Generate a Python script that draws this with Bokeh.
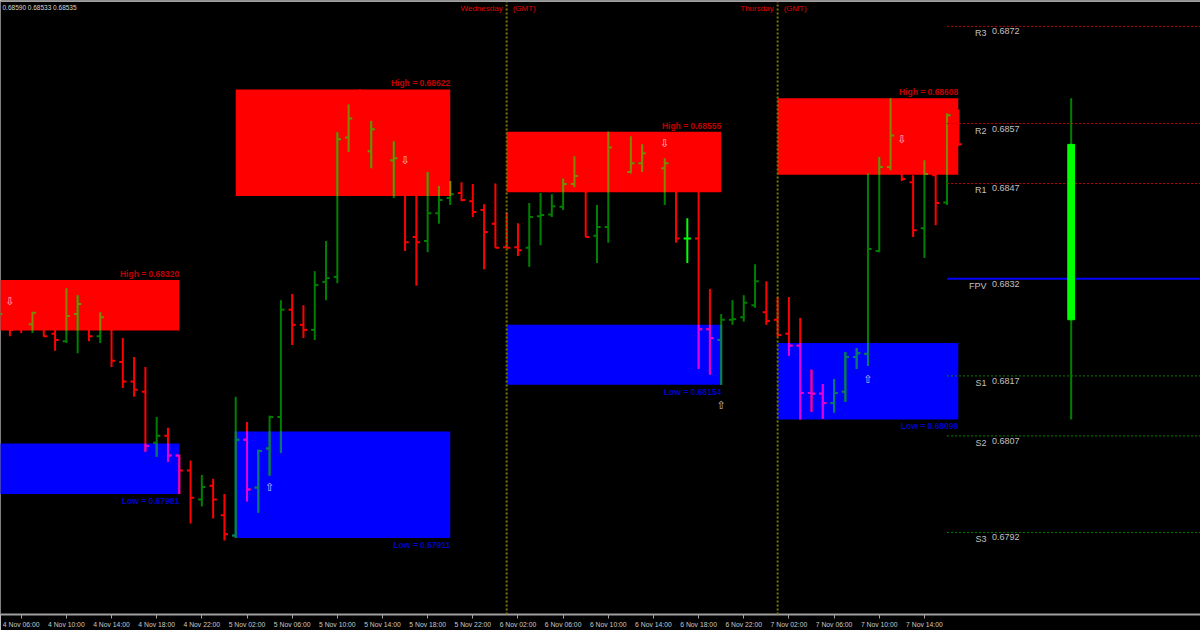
import pandas as pd
from bokeh.plotting import figure
from bokeh.models import Range1d, FixedTicker, Span
from bokeh.embed import file_html
from bokeh.resources import INLINE
from bokeh.core.properties import value

# ---------------- data (H1 bars) ----------------
FIRST_BAR = "2013-11-04 04:00"
AXIS_ORIGIN = "2013-11-04 06:00"

opens = [0.68254, 0.68266, 0.68257, 0.68250, 0.68263, 0.68235, 0.68223, 0.68266, 0.68279, 0.68231,
         0.68260, 0.68190, 0.68159, 0.68143, 0.68062, 0.68073, 0.68042, 0.68018, 0.67972, 0.67994,
         0.67947, 0.67915, 0.68067, 0.67991, 0.68053, 0.68103, 0.68273, 0.68249, 0.68241, 0.68317,
         0.68325, 0.68546, 0.68576, 0.68524, 0.68559, 0.68510, 0.68513, 0.68388, 0.68382, 0.68426,
         0.68450, 0.68458, 0.68445, 0.68431, 0.68409, 0.68372, 0.68372, 0.68371, 0.68421, 0.68424,
         0.68436, 0.68472, 0.68485, 0.68390, 0.68404, 0.68530, 0.68491, 0.68505, 0.68521, 0.68497,
         0.68505, 0.68386, 0.68386, 0.68242, 0.68225, 0.68257, 0.68261, 0.68280, 0.68269, 0.68257,
         0.68235, 0.68216, 0.68141, 0.68140, 0.68125, 0.68143, 0.68198, 0.68203, 0.68366, 0.68499,
         0.68549, 0.68475, 0.68402, 0.68486, 0.68443, 0.68581]
highs = [0.68280, 0.68279, 0.68269, 0.68269, 0.68273, 0.68247, 0.68307, 0.68296, 0.68288, 0.68269,
         0.68269, 0.68228, 0.68198, 0.68182, 0.68103, 0.68086, 0.68043, 0.68034, 0.68011, 0.68005,
         0.67981, 0.68135, 0.68095, 0.68051, 0.68105, 0.68288, 0.68298, 0.68280, 0.68334, 0.68382,
         0.68554, 0.68598, 0.68622, 0.68572, 0.68565, 0.68540, 0.68526, 0.68470, 0.68491, 0.68469,
         0.68477, 0.68475, 0.68472, 0.68440, 0.68473, 0.68428, 0.68410, 0.68442, 0.68458, 0.68456,
         0.68481, 0.68516, 0.68494, 0.68439, 0.68555, 0.68542, 0.68548, 0.68535, 0.68529, 0.68513,
         0.68510, 0.68418, 0.68470, 0.68306, 0.68266, 0.68288, 0.68296, 0.68345, 0.68318, 0.68293,
         0.68293, 0.68260, 0.68178, 0.68155, 0.68163, 0.68206, 0.68212, 0.68489, 0.68515, 0.68608,
         0.68561, 0.68486, 0.68510, 0.68490, 0.68584, 0.68590]
lows = [0.68244, 0.68231, 0.68236, 0.68236, 0.68230, 0.68208, 0.68220, 0.68204, 0.68223, 0.68220,
        0.68182, 0.68149, 0.68135, 0.68048, 0.68040, 0.68032, 0.67981, 0.67934, 0.67961, 0.67942,
        0.67907, 0.67911, 0.67969, 0.67951, 0.68010, 0.68046, 0.68217, 0.68228, 0.68225, 0.68288,
        0.68315, 0.68523, 0.68513, 0.68497, 0.68502, 0.68450, 0.68366, 0.68311, 0.68364, 0.68409,
        0.68439, 0.68445, 0.68420, 0.68337, 0.68371, 0.68371, 0.68358, 0.68341, 0.68375, 0.68420,
        0.68431, 0.68467, 0.68388, 0.68347, 0.68379, 0.68481, 0.68489, 0.68491, 0.68494, 0.68439,
        0.68379, 0.68347, 0.68179, 0.68170, 0.68154, 0.68249, 0.68254, 0.68276, 0.68249, 0.68230,
        0.68200, 0.68099, 0.68111, 0.68100, 0.68110, 0.68127, 0.68179, 0.68184, 0.68364, 0.68494,
        0.68477, 0.68388, 0.68355, 0.68407, 0.68439, 0.68533]
closes = [0.68266, 0.68241, 0.68247, 0.68268, 0.68231, 0.68225, 0.68263, 0.68282, 0.68231, 0.68261,
          0.68192, 0.68159, 0.68146, 0.68057, 0.68073, 0.68042, 0.68018, 0.67975, 0.67992, 0.67972,
          0.67917, 0.68067, 0.67988, 0.68049, 0.68103, 0.68273, 0.68249, 0.68241, 0.68312, 0.68323,
          0.68543, 0.68576, 0.68524, 0.68559, 0.68511, 0.68513, 0.68380, 0.68380, 0.68426, 0.68447,
          0.68456, 0.68447, 0.68428, 0.68396, 0.68371, 0.68371, 0.68367, 0.68420, 0.68423, 0.68437,
          0.68472, 0.68485, 0.68388, 0.68404, 0.68530, 0.68491, 0.68505, 0.68521, 0.68497, 0.68505,
          0.68386, 0.68386, 0.68242, 0.68228, 0.68257, 0.68258, 0.68284, 0.68318, 0.68255, 0.68233,
          0.68216, 0.68141, 0.68140, 0.68125, 0.68141, 0.68198, 0.68204, 0.68369, 0.68499, 0.68549,
          0.68480, 0.68399, 0.68488, 0.68442, 0.68581, 0.68535]

tick_first, tick_last, tick_every = "2013-11-04 06:00", "2013-11-07 14:00", "4h"
header_text = "0.68590 0.68533 0.68535"

day_separators = ["2013-11-06 01:00", "2013-11-07 01:00"]
day_names = ["Wednesday", "Thursday"]

box_start = ["2013-11-04 01:00", "2013-11-05 01:00", "2013-11-06 01:00", "2013-11-07 01:00"]
box_end = ["2013-11-04 20:00", "2013-11-05 20:00", "2013-11-06 20:00", "2013-11-07 17:00"]
box_high = [0.68320, 0.68622, 0.68555, 0.68608]
box_high_zone_low = [0.68240, 0.68453, 0.68459, 0.68487]
box_low = [0.67981, 0.67911, 0.68154, 0.68099]
box_low_zone_high = [0.68061, 0.68080, 0.68249, 0.68220]

sell_times = ["2013-11-04 05:00", "2013-11-05 16:00", "2013-11-06 15:00", "2013-11-07 12:00"]
sell_prices = [0.68286, 0.68509, 0.68536, 0.68543]
buy_times = ["2013-11-05 04:00", "2013-11-06 20:00", "2013-11-07 09:00"]
buy_prices = [0.67991, 0.68121, 0.68162]

pivot_names = ["R3", "R2", "R1", "FPV", "S1", "S2", "S3"]
pivot_values = [0.68722, 0.68568, 0.68473, 0.68322, 0.68168, 0.68073, 0.67920]
pivot_start = "2013-11-07 16:00"

daily_ohlc = [0.68257, 0.68608, 0.68099, 0.68535]   # open, high, low, close of 7 Nov

# ---------------- helpers ----------------
t0 = pd.Timestamp(AXIS_ORIGIN)
def hx(t):
    return (pd.Timestamp(t) - t0) / pd.Timedelta(hours=1)

bar_times = pd.date_range(FIRST_BAR, periods=len(opens), freq="1h")
bx = [hx(t) for t in bar_times]

UP, DOWN, DOJI = "#008000", "#ff0000", "#00ff00"
IN_RED = {UP: "#868600", DOWN: "#ff0000", DOJI: "#ffff00"}
IN_BLUE = {UP: "#0a7a70", DOWN: "#e000e0", DOJI: "#00ffff"}

def bar_color(o, c):
    if abs(c - o) < 1e-9:
        return DOJI
    return UP if c > o else DOWN

colors = [bar_color(o, c) for o, c in zip(opens, closes)]

X0, X1 = -1.8335, 104.455
Y0, Y1 = 0.677899, 0.687630

p = figure(width=1200, height=630, output_backend="svg", toolbar_location=None,
           x_range=Range1d(X0, X1), y_range=Range1d(Y0, Y1), y_axis_location=None,
           min_border=0, min_border_left=0, min_border_right=0, min_border_top=0)
p.background_fill_color = "black"
p.border_fill_color = "black"
p.outline_line_color = None
p.grid.visible = False

# boxes
bx0 = [hx(t) for t in box_start]
bx1 = [hx(t) for t in box_end]
p.quad(left=bx0, right=bx1, top=box_high, bottom=box_high_zone_low,
       fill_color="#ff0000", line_color=None)
p.quad(left=bx0, right=bx1, top=box_low_zone_high, bottom=box_low,
       fill_color="#0000ff", line_color=None)

# day separators
for t in day_separators:
    p.add_layout(Span(location=hx(t), dimension="height", line_color="#7a7a00",
                      line_width=2, line_dash="2 2"))

# OHLC bars
TK = 0.32
p.segment(x0=bx, x1=bx, y0=lows, y1=highs, line_color=colors, line_width=2)
p.segment(x0=[x - TK for x in bx], x1=bx, y0=opens, y1=opens, line_color=colors, line_width=2)
p.segment(x0=bx, x1=[x + TK for x in bx], y0=closes, y1=closes, line_color=colors, line_width=2)

# parts of bars inside boxes take a blended colour
vx0, vx1, vy0, vy1, vc = [], [], [], [], []
for i, x in enumerate(bx):
    for j in range(len(bx0)):
        if not (bx0[j] <= x <= bx1[j]):
            continue
        for lo_z, hi_z, cmap in ((box_high_zone_low[j], box_high[j], IN_RED),
                                 (box_low[j], box_low_zone_high[j], IN_BLUE)):
            col = cmap[colors[i]]
            lo, hi = max(lows[i], lo_z), min(highs[i], hi_z)
            if lo < hi:
                vx0.append(x); vx1.append(x); vy0.append(lo); vy1.append(hi); vc.append(col)
            if lo_z <= opens[i] <= hi_z:
                vx0.append(x - TK); vx1.append(x); vy0.append(opens[i]); vy1.append(opens[i]); vc.append(col)
            if lo_z <= closes[i] <= hi_z and x + TK <= bx1[j]:
                vx0.append(x); vx1.append(x + TK); vy0.append(closes[i]); vy1.append(closes[i]); vc.append(col)
p.segment(x0=vx0, x1=vx1, y0=vy0, y1=vy1, line_color=vc, line_width=2)

FONT = value("Liberation Sans")

# box labels
p.text(x=bx1, y=box_high, text=[f"High = {v:.5f}" for v in box_high], text_align="right",
       text_baseline="bottom", y_offset=-1, text_color="#c00000", text_font=FONT,
       text_font_size="8.5px", text_font_style="bold")
p.text(x=bx1, y=box_low, text=[f"Low = {v:.5f}" for v in box_low], text_align="right",
       text_baseline="top", y_offset=2, text_color="#0000c8", text_font=FONT,
       text_font_size="8.5px", text_font_style="bold")

# arrows
p.text(x=[hx(t) for t in sell_times], y=sell_prices, text=["\u21e9"] * len(sell_times),
       text_align="center", text_baseline="middle", text_color="#ffe0e0", text_alpha=0.85,
       text_font=value("DejaVu Sans"), text_font_size="11px")
p.text(x=[hx(t) for t in buy_times], y=buy_prices, text=["\u21e7"] * len(buy_times),
       text_align="center", text_baseline="middle", text_color="#e8e8ff", text_alpha=0.85,
       text_font=value("DejaVu Sans"), text_font_size="11px")

# day labels
sx = [hx(t) for t in day_separators]
p.text(x=sx, y=[Y1] * len(sx), text=day_names, text_align="right", text_baseline="top",
       x_offset=-4, y_offset=3, text_color="#e00000", text_font=FONT, text_font_size="8px")
p.text(x=sx, y=[Y1] * len(sx), text=["(GMT)"] * len(sx), text_align="left", text_baseline="top",
       x_offset=6, y_offset=3, text_color="#e00000", text_font=FONT, text_font_size="8px")

# header
p.text(x=[X0], y=[Y1], text=[header_text], text_align="left", text_baseline="top",
       x_offset=2, y_offset=3, text_color="#d8d8d8", text_font=FONT, text_font_size="6.5px")

# pivot lines
ps = hx(pivot_start)
pcol = ["#c00000"] * 3 + ["#0000ff"] + ["#008000"] * 3
for name, v, c in zip(pivot_names, pivot_values, pcol):
    if name == "FPV":
        p.ray(x=[ps], y=[v], length=0, angle=0, line_color=c, line_width=2)
    else:
        p.ray(x=[ps], y=[v], length=0, angle=0, line_color=c, line_width=1, line_dash="2 2")
p.text(x=[ps + 3.5] * len(pivot_names), y=pivot_values, text=pivot_names, text_align="right",
       text_baseline="top", y_offset=2, text_color="#c0c0c0", text_font=FONT, text_font_size="9px")
p.text(x=[ps + 3.99] * len(pivot_values), y=pivot_values, text=[f"{v:.4f}" for v in pivot_values],
       text_align="left", text_baseline="top", y_offset=2, text_color="#c0c0c0", text_font=FONT,
       text_font_size="9px")

# daily candle
dx = bx[-1] + 10
do, dh, dl, dc = daily_ohlc
p.segment(x0=[dx], x1=[dx], y0=[dl], y1=[dh], line_color="#008000", line_width=2)
p.vbar(x=[dx], width=0.6, bottom=[do], top=[dc], fill_color="#00ff00", line_color="#00ff00")

# top border
p.add_layout(Span(location=Y1, dimension="width", line_color="#a0a0a0", line_width=3))

# time axis
ticks = pd.date_range(tick_first, tick_last, freq=tick_every)
tick_x = [hx(t) for t in ticks]
p.xaxis.ticker = FixedTicker(ticks=tick_x)
p.xaxis.major_label_overrides = {x: f"{t.day} {t:%b %H:%M}" for x, t in zip(tick_x, ticks)}
p.xaxis.major_label_text_align = "left"
p.xaxis.major_label_text_color = "#c8c8c8"
p.xaxis.major_label_text_font = "Liberation Sans"
p.xaxis.major_label_text_font_size = "6.8px"
p.xaxis.major_label_standoff = 2
p.xaxis.axis_line_color = "#a0a0a0"
p.xaxis.axis_line_width = 2
p.xaxis.major_tick_line_color = "#a0a0a0"
p.xaxis.major_tick_out = 4
p.xaxis.major_tick_in = 0
p.xaxis.minor_tick_line_color = None

open("out.html", "w").write(file_html(p, INLINE))
